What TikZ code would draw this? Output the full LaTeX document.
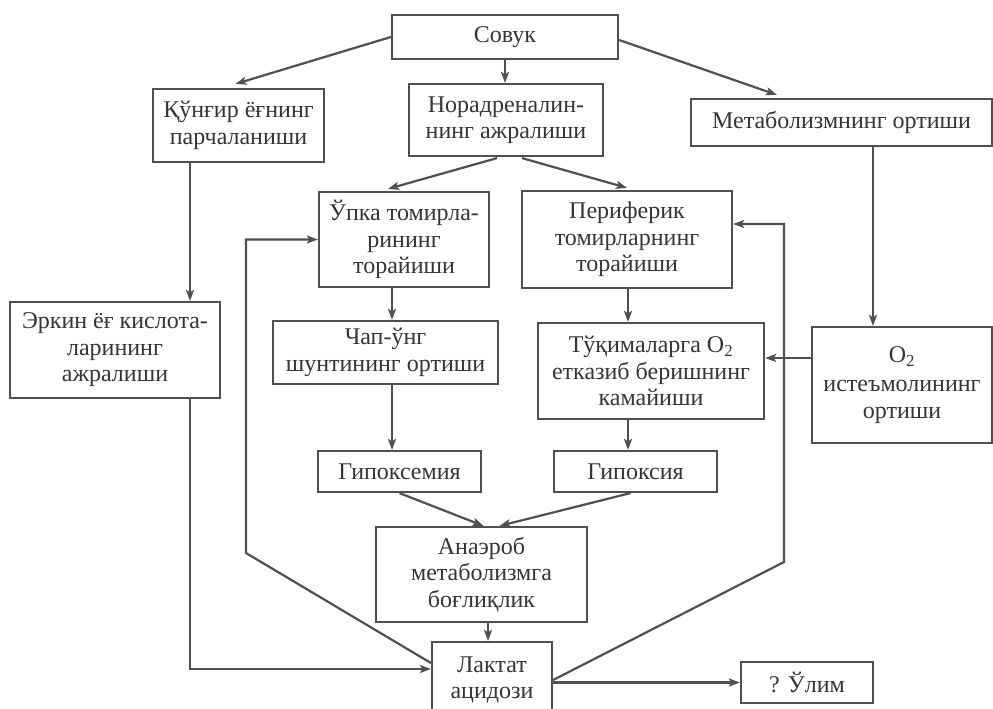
\documentclass[tikz,border=0pt]{standalone}
\usepackage{fontspec}
\setmainfont{Liberation Serif}
\usetikzlibrary{arrows.meta,calc}
\definecolor{ink}{HTML}{353535}
\definecolor{ln}{HTML}{505050}
\begin{document}
\begin{tikzpicture}[x=1pt,y=-1pt,
  box/.style={draw=ln, line width=2.2pt, text=ink, align=center, inner sep=0pt,
    font=\fontsize{24}{26.5}\selectfont},
  arr/.style={draw=ln, line width=2.2pt, -{Stealth[length=11pt,width=8pt,inset=2.5pt]}}]
\useasboundingbox[fill=white] (0,0) rectangle (993,709);
% nodes
\node[box, minimum width=226pt, minimum height=44pt] (sovuk) at (505,37) {Совук};
\node[box, minimum width=171pt, minimum height=73pt] (kungir) at (238.5,125.5) {Қўнғир ёғнинг\\парчаланиши};
\node[box, minimum width=194pt, minimum height=72pt] (nor) at (506,120) {Норадреналин-\\нинг ажралиши};
\node[box, minimum width=301pt, minimum height=47pt] (metab) at (841.5,122.5) {Метаболизмнинг ортиши};
\node[box, minimum width=170pt, minimum height=95pt] (upka) at (404,239.5) {Ўпка томирла-\\рининг\\торайиши};
\node[box, minimum width=210pt, minimum height=97pt] (peri) at (627,239.5) {Периферик\\томирларнинг\\торайиши};
\node[box, minimum width=210pt, minimum height=96pt] (erkin) at (115,350) {Эркин ёғ кислота-\\ларининг\\ажралиши};
\node[box, minimum width=225pt, minimum height=63pt] (chap) at (385.5,352.5) {Чап-ўнг\\шунтининг ортиши};
\node[box, minimum width=226pt, minimum height=96pt] (tuq) at (651,371) {Тўқималарга O\textsubscript{2}\\етказиб беришнинг\\камайиши};
\node[box, minimum width=180pt, minimum height=116pt] (o2) at (902,385) {O\textsubscript{2}\\[3pt]истеъмолининг\\ортиши};
\node[box, minimum width=163pt, minimum height=41pt] (gem) at (399.5,471.5) {Гипоксемия};
\node[box, minimum width=163pt, minimum height=41pt] (gia) at (635.5,471.5) {Гипоксия};
\node[box, minimum width=211pt, minimum height=95pt] (ana) at (481.5,574.5) {Анаэроб\\метаболизмга\\боғлиқлик};
\node[box, minimum width=120pt, minimum height=76pt] (lak) at (492,680) {Лактат\\ацидози};
\node[box, minimum width=132pt, minimum height=41pt] (ulim) at (807,682.5) {? Ўлим};
% helper coordinates
\coordinate (xk) at (190,0);
\coordinate (yb) at (0,669);
\coordinate (L1) at (246,553);
\coordinate (R1) at (784,562);
\coordinate (yr) at (0,224);
\coordinate (xm) at (873,0);
\coordinate (yo) at (0,358);
\coordinate (xu) at (392,0);
\coordinate (xp) at (628,0);
\coordinate (xa) at (488,0);
% connectors
\draw[arr] (sovuk.west) -- ($(kungir.north)+(-3,-4)$);
\draw[arr] (sovuk.south) -- (sovuk.south |- nor.north);
\draw[arr] ($(sovuk.east)+(0,3)$) -- ($(metab.north west)+(87,-3)$);
\draw[arr] ($(nor.south)+(-9,1)$) -- ($(upka.north)+(-16,-2)$);
\draw[arr] ($(nor.south)+(16,1)$) -- ($(peri.north)+(0,-2)$);
\draw[arr] (kungir.south -| xk) -- (erkin.north -| xk);
\draw[arr] (erkin.south -| xk) -- (xk |- yb) -- (lak.west |- yb);
\draw[arr] ($(lak.west)+(0,-17)$) -- (L1) -- (L1 |- upka.west) -- (upka.west);
\draw[arr] (lak.east) -- (R1) -- (R1 |- yr) -- (peri.east |- yr);
\draw[arr] (lak.east |- ulim.west) -- (ulim.west);
\draw[arr] (metab.south -| xm) -- (o2.north -| xm);
\draw[arr] (o2.west |- yo) -- (tuq.east |- yo);
\draw[arr] (upka.south -| xu) -- (chap.north -| xu);
\draw[arr] (peri.south -| xp) -- (tuq.north -| xp);
\draw[arr] (tuq.south -| xp) -- (gia.north -| xp);
\draw[arr] (chap.south -| xu) -- (gem.north -| xu);
\draw[arr] (gem.south) -- ($(ana.north)+(2,0)$);
\draw[arr] ($(gia.south)+(-5,0)$) -- ($(ana.north)+(18,0)$);
\draw[arr] (ana.south -| xa) -- (lak.north -| xa);
\end{tikzpicture}
\end{document}
